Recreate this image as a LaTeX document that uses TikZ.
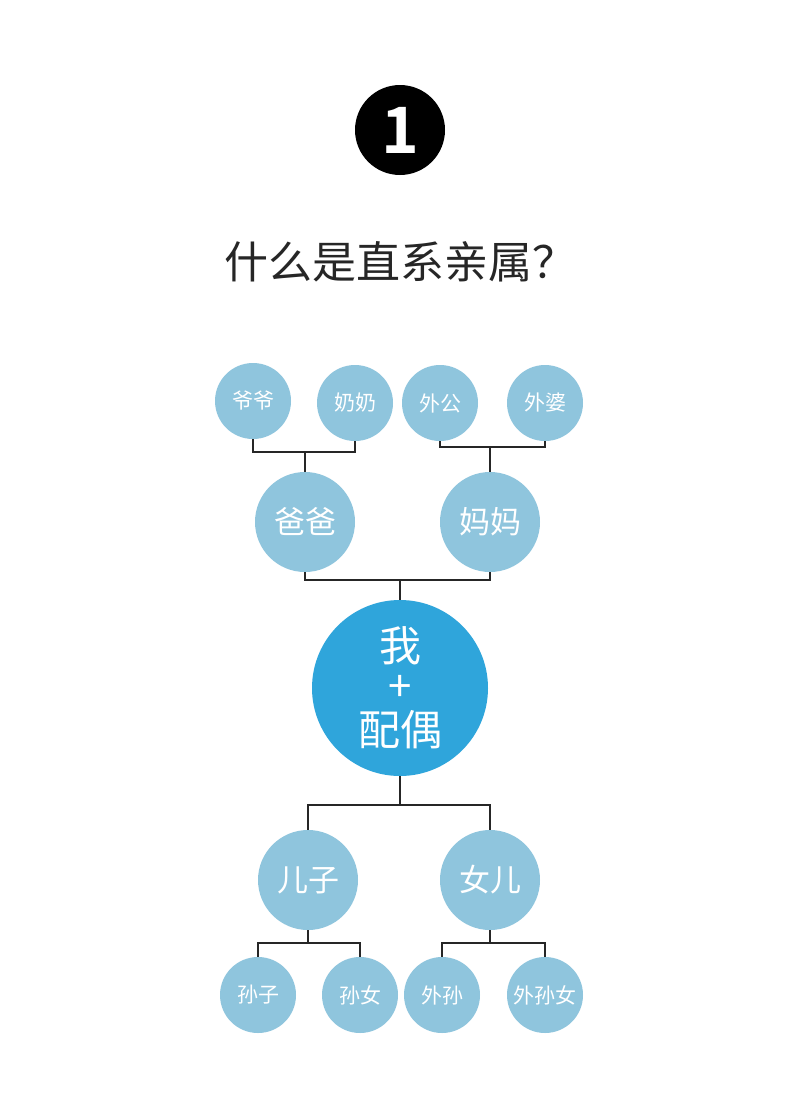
\documentclass[tikz,border=0pt]{standalone}
\usepackage{fontspec}
\setmainfont{Noto Sans CJK SC}
\newfontfamily\boldcjk{Noto Sans CJK SC Bold}
\begin{document}
\begin{tikzpicture}[x=1pt,y=-1pt,
  small/.style={circle,fill=lightb,minimum size=76pt,inner sep=0pt,text=white,font=\fontsize{21}{22}\selectfont},
  mid/.style={circle,fill=lightb,minimum size=100pt,inner sep=0pt,text=white,font=\fontsize{31}{32}\selectfont},
  big/.style={circle,fill=darkb,minimum size=176pt,inner sep=0pt,text=white,align=center,font=\fontsize{42}{44}\selectfont},
  conn/.style={draw=black!85,line width=1.2pt}]
\definecolor{lightb}{HTML}{8FC5DD}
\definecolor{darkb}{HTML}{2FA5DB}
\useasboundingbox[fill=white] (0,0) rectangle (800,1108);
\node[circle,fill=black,minimum size=90pt,inner sep=0pt,text=white,font=\boldcjk\fontsize{64}{64}\selectfont] (badge) at (400,130) {1};
\node[font=\fontsize{44}{46}\selectfont,text=black!85] (title) at (400,262) {什么是直系亲属？};
\node[small] (yy) at (253,401) {爷爷};
\node[small] (nn) at (355,403) {奶奶};
\node[small] (wg) at (440,403) {外公};
\node[small] (wp) at (545,403) {外婆};
\node[mid] (bb) at (305,522) {爸爸};
\node[mid] (mm) at (490,522) {妈妈};
\node[big] (me) at (400,688) {我\\[-2pt]\raisebox{2pt}{+}\\[-2pt]配偶};
\node[mid] (ez) at (308,880) {儿子};
\node[mid] (ne) at (490,880) {女儿};
\node[small] (sz) at (258,995) {孙子};
\node[small] (sn) at (360,995) {孙女};
\node[small] (ws) at (442,995) {外孙};
\node[small] (wsn) at (545,995) {外孙女};
\draw[conn] (yy.south) -- (253,452) -- (355,452) -- (nn.south);
\draw[conn] (305,452) -- (bb.north);
\draw[conn] (wg.south) -- (440,447) -- (545,447) -- (wp.south);
\draw[conn] (mm.north) -- (mm.north |- 0,447);
\draw[conn] (bb.south) -- (305,580) -- (490,580) -- (mm.south);
\draw[conn] (400,580) -- (me.north);
\draw[conn] (me.south) -- (400,805);
\draw[conn] (ez.north) -- (308,805) -- (490,805) -- (ne.north);
\draw[conn] (ez.south) -- (308,943);
\draw[conn] (sz.north) -- (258,943) -- (360,943) -- (sn.north);
\draw[conn] (ne.south) -- (490,943);
\draw[conn] (ws.north) -- (442,943) -- (545,943) -- (wsn.north);
\end{tikzpicture}
\end{document}
